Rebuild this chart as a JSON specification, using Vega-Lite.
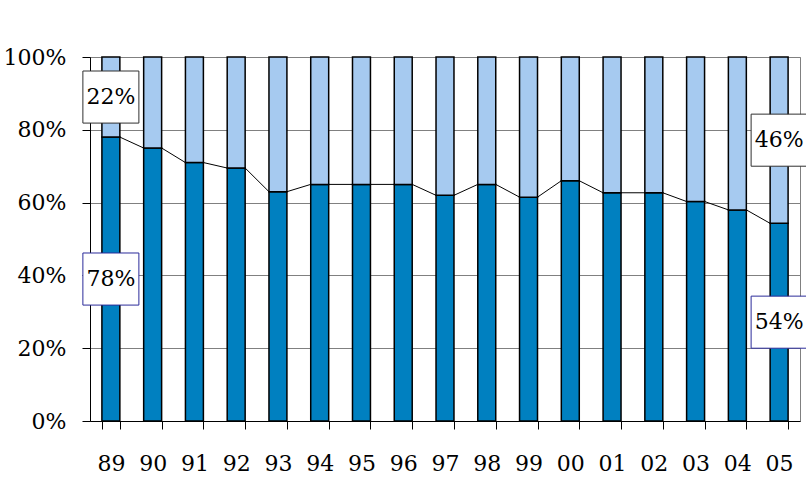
{
  "$schema": "https://vega.github.io/schema/vega-lite/v6.json",
  "width": 710,
  "height": 364,
  "autosize": "none",
  "padding": {"left": 90, "top": 57, "right": 6, "bottom": 66},
  "background": "white",
  "config": {
    "view": {"stroke": "#808080", "strokeWidth": 1},
    "font": "DejaVu Serif",
    "axis": {"labelFont": "DejaVu Serif"},
    "text": {"font": "DejaVu Serif"}
  },
  "data": {
    "values": [
      {"year": "89", "series": "dark", "value": 0.78},
      {"year": "89", "series": "light", "value": 0.22},
      {"year": "90", "series": "dark", "value": 0.75},
      {"year": "90", "series": "light", "value": 0.25},
      {"year": "91", "series": "dark", "value": 0.71},
      {"year": "91", "series": "light", "value": 0.29},
      {"year": "92", "series": "dark", "value": 0.695},
      {"year": "92", "series": "light", "value": 0.305},
      {"year": "93", "series": "dark", "value": 0.63},
      {"year": "93", "series": "light", "value": 0.37},
      {"year": "94", "series": "dark", "value": 0.65},
      {"year": "94", "series": "light", "value": 0.35},
      {"year": "95", "series": "dark", "value": 0.65},
      {"year": "95", "series": "light", "value": 0.35},
      {"year": "96", "series": "dark", "value": 0.65},
      {"year": "96", "series": "light", "value": 0.35},
      {"year": "97", "series": "dark", "value": 0.62},
      {"year": "97", "series": "light", "value": 0.38},
      {"year": "98", "series": "dark", "value": 0.65},
      {"year": "98", "series": "light", "value": 0.35},
      {"year": "99", "series": "dark", "value": 0.615},
      {"year": "99", "series": "light", "value": 0.385},
      {"year": "00", "series": "dark", "value": 0.66},
      {"year": "00", "series": "light", "value": 0.34},
      {"year": "01", "series": "dark", "value": 0.627},
      {"year": "01", "series": "light", "value": 0.373},
      {"year": "02", "series": "dark", "value": 0.627},
      {"year": "02", "series": "light", "value": 0.373},
      {"year": "03", "series": "dark", "value": 0.603},
      {"year": "03", "series": "light", "value": 0.397},
      {"year": "04", "series": "dark", "value": 0.58},
      {"year": "04", "series": "light", "value": 0.42},
      {"year": "05", "series": "dark", "value": 0.543},
      {"year": "05", "series": "light", "value": 0.457}
    ]
  },
  "encoding": {
    "x": {
      "field": "year",
      "type": "nominal",
      "scale": {
        "type": "band",
        "domain": ["89", "90", "91", "92", "93", "94", "95", "96", "97", "98", "99", "00", "01", "02", "03", "04", "05"],
        "paddingInner": 0.57,
        "paddingOuter": 0.285
      },
      "axis": {
        "title": null,
        "labelAngle": 0,
        "labelFontSize": 22,
        "labelColor": "black",
        "labelPadding": 24,
        "tickBand": "extent",
        "tickSize": 8,
        "tickColor": "black",
        "domainColor": "black",
        "grid": false
      }
    }
  },
  "layer": [
    {
      "mark": {"type": "bar", "stroke": "black", "strokeWidth": 1.5},
      "encoding": {
        "y": {
          "field": "value",
          "type": "quantitative",
          "stack": "zero",
          "scale": {"domain": [0, 1], "nice": false},
          "axis": {
            "title": null,
            "values": [0, 0.2, 0.4, 0.6, 0.8, 1],
            "format": ".0%",
            "labelFontSize": 22,
            "labelColor": "black",
            "labelPadding": 16,
            "tickSize": 8,
            "tickColor": "black",
            "domainColor": "black",
            "gridColor": "#808080",
            "gridOpacity": 1
          }
        },
        "order": {"field": "series", "sort": "ascending"},
        "fill": {
          "field": "series",
          "type": "nominal",
          "scale": {"domain": ["dark", "light"], "range": ["#0080C0", "#A6CAF0"]},
          "legend": null
        }
      }
    },
    {
      "transform": [
        {"filter": "datum.series == 'dark'"},
        {
          "window": [
            {"op": "lead", "field": "value", "as": "nextValue"},
            {"op": "lead", "field": "year", "as": "nextYear"}
          ]
        },
        {"filter": "datum.nextYear != null"}
      ],
      "mark": {"type": "rule", "color": "black", "strokeWidth": 1},
      "encoding": {
        "x": {"field": "year", "type": "nominal", "bandPosition": 1},
        "x2": {"field": "nextYear", "bandPosition": 0},
        "y": {"field": "value", "type": "quantitative"},
        "y2": {"field": "nextValue"}
      }
    },
    {
      "transform": [{"filter": "datum.year == '89' || datum.year == '05'"}],
      "mark": {
        "type": "point",
        "shape": "M-1,-0.93H1V0.93H-1Z",
        "size": 3136,
        "filled": true,
        "fill": "white",
        "fillOpacity": 1,
        "strokeWidth": 1,
        "opacity": 1
      },
      "encoding": {
        "y": {"field": "value", "type": "quantitative", "stack": "zero", "bandPosition": 0.5},
        "order": {"field": "series", "sort": "ascending"},
        "stroke": {
          "field": "series",
          "type": "nominal",
          "scale": {"domain": ["dark", "light"], "range": ["#2B2B9A", "#303030"]},
          "legend": null
        }
      }
    },
    {
      "transform": [{"filter": "datum.year == '89' || datum.year == '05'"}],
      "mark": {"type": "text", "fontSize": 22, "color": "black", "baseline": "middle", "align": "center"},
      "encoding": {
        "y": {"field": "value", "type": "quantitative", "stack": "zero", "bandPosition": 0.5},
        "order": {"field": "series", "sort": "ascending"},
        "text": {"field": "value", "type": "quantitative", "format": ".0%"}
      }
    }
  ]
}
